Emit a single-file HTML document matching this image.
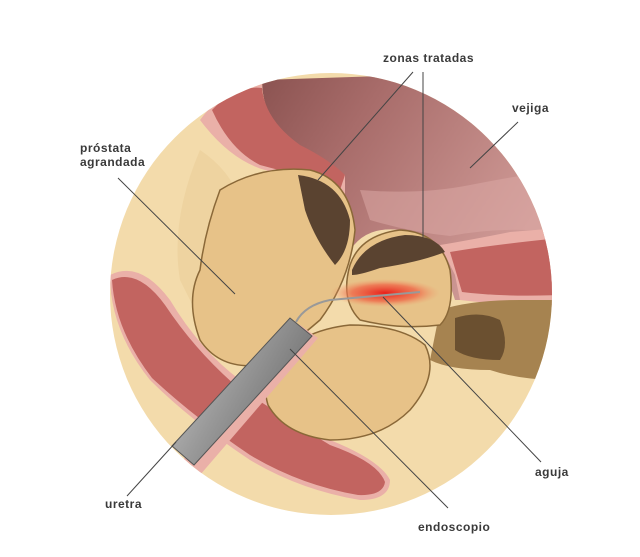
<!DOCTYPE html>
<html><head><meta charset="utf-8"><style>
html,body{margin:0;padding:0;background:#fff;}
svg{display:block}
text{font-family:"Liberation Sans",sans-serif;font-weight:bold;font-size:12px;fill:#3a3a3a;letter-spacing:0.5px}
</style></head><body>
<svg width="640" height="557" viewBox="0 0 640 557" xmlns="http://www.w3.org/2000/svg">
<defs>
<clipPath id="c"><circle cx="331" cy="294" r="221"/></clipPath>
<radialGradient id="red" cx="0.5" cy="0.5" r="0.5"><stop offset="0" stop-color="#e8201a"/><stop offset="0.6" stop-color="#ef6a4a" stop-opacity="0.8"/><stop offset="1" stop-color="#f0a070" stop-opacity="0"/></radialGradient>
<linearGradient id="tube" x1="0" y1="0" x2="1" y2="0.6"><stop offset="0" stop-color="#d0d0d0"/><stop offset="0.5" stop-color="#9a9a9a"/><stop offset="1" stop-color="#6a6a6a"/></linearGradient>
<linearGradient id="bl" x1="0" y1="0" x2="1" y2="0.5"><stop offset="0" stop-color="#8a5250"/><stop offset="0.35" stop-color="#a86c6a"/><stop offset="1" stop-color="#d19c98"/></linearGradient>
</defs>
<g clip-path="url(#c)">
<rect x="100" y="60" width="470" height="480" fill="#f3dbab"/>
<path d="M200 150 Q230 170 240 200 Q225 260 200 320 L180 280 Q170 220 200 150Z" fill="#eed3a0"/>
<!-- bladder -->
<path d="M262 80 L560 70 L560 300 L455 300 Q440 250 400 230 Q360 225 345 260 Q345 200 320 170 Q300 150 280 130 Q262 110 262 80Z" fill="url(#bl)"/>
<path d="M360 190 Q420 195 470 185 Q520 175 560 170 L560 232 Q500 226 450 236 Q410 232 370 220Z" fill="#dba8a4" opacity="0.55"/>
<!-- upper muscle wall -->
<path d="M200 120 Q230 80 262 80 Q262 120 290 140 Q320 160 345 175 L345 200 Q300 180 265 170 Q230 160 200 120Z" fill="#eab0a8"/>
<path d="M212 110 Q235 85 262 88 Q265 120 300 145 Q330 160 345 175 L340 190 Q300 175 260 165 Q230 150 212 110Z" fill="#c26460"/>
<path d="M440 245 Q470 240 510 232 L560 228 L560 305 Q500 305 460 300 L455 275Z" fill="#eab0a8"/>
<path d="M450 252 Q490 245 560 238 L560 295 Q500 297 462 292Z" fill="#c26460"/>
<!-- lower duct brown -->
<path d="M440 310 Q470 300 520 300 L560 300 L560 380 Q520 380 490 370 Q450 370 430 360Z" fill="#a68350"/>
<path d="M455 318 Q480 310 500 320 Q510 345 500 360 Q470 360 455 350Z" fill="#6b5030"/>
<!-- lower-left muscle -->
<path d="M110 275 Q140 260 170 300 Q200 350 240 380 Q280 410 330 440 Q380 460 390 480 Q390 500 360 500 Q300 490 250 460 Q190 420 150 380 Q110 330 110 275Z" fill="#eab0a8"/>
<path d="M112 280 Q138 268 165 305 Q195 350 235 385 Q280 415 330 445 Q378 462 385 482 Q383 496 358 495 Q300 485 250 455 Q195 418 152 378 Q115 330 112 280Z" fill="#c26460"/>
<!-- prostate left lobe -->
<path d="M220 190 Q260 165 310 170 Q350 180 355 230 Q350 280 320 320 Q285 350 260 365 Q220 370 200 340 Q185 300 200 270 Q205 230 220 190Z" fill="#e7c288" stroke="#8a6838" stroke-width="1.5"/>
<path d="M298 175 Q340 180 350 220 Q350 250 335 265 Q315 240 305 210Z" fill="#5a4330"/>
<!-- right upper lobe -->
<path d="M350 265 Q360 235 400 230 Q440 232 450 270 Q455 310 440 325 Q400 330 360 320 Q340 300 350 265Z" fill="#e7c288" stroke="#8a6838" stroke-width="1.5"/>
<path d="M352 270 Q365 240 405 235 Q435 235 445 252 Q420 262 380 268 Q360 275 352 275Z" fill="#5a4330"/>
<ellipse cx="385" cy="293" rx="55" ry="14" fill="url(#red)"/>
<!-- lower lobe -->
<path d="M270 365 Q300 330 350 325 Q400 325 425 345 Q440 375 410 410 Q380 440 330 440 Q285 435 268 405 Q262 385 270 365Z" fill="#e7c288" stroke="#8a6838" stroke-width="1.5"/>
<!-- endoscope -->
<path d="M183 460 L300 325 L318 338 L200 475Z" fill="#eab0a8"/>
<path d="M172 446 L290 318 L312 336 L194 465Z" fill="url(#tube)" stroke="#555" stroke-width="1"/>
<path d="M296 322 Q305 305 330 300 L420 292" fill="none" stroke="#999" stroke-width="2"/>
</g>
<!-- leader lines -->
<g stroke="#444" stroke-width="1" fill="none">
<line x1="413" y1="72" x2="318" y2="180"/>
<line x1="423" y1="72" x2="423" y2="237"/>
<line x1="518" y1="122" x2="470" y2="168"/>
<line x1="118" y1="178" x2="235" y2="294"/>
<line x1="541" y1="462" x2="383" y2="297"/>
<line x1="127" y1="496" x2="176" y2="442"/>
<line x1="448" y1="508" x2="290" y2="349"/>
</g>
<text x="383" y="62">zonas tratadas</text>
<text x="512" y="112">vejiga</text>
<text x="80" y="152">próstata</text>
<text x="80" y="166">agrandada</text>
<text x="535" y="476">aguja</text>
<text x="105" y="508">uretra</text>
<text x="418" y="531">endoscopio</text>
</svg>
</body></html>
